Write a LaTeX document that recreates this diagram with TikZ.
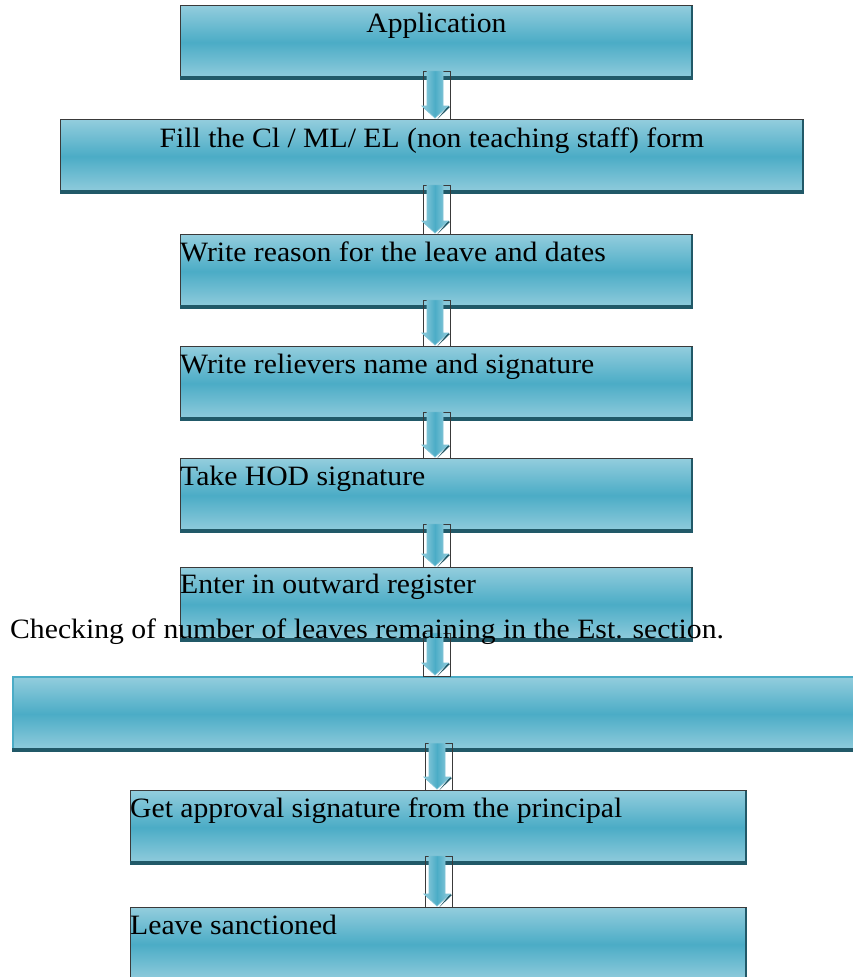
\documentclass[tikz,border=0pt]{standalone}
\usepackage{fontspec}
\setmainfont{Liberation Serif}[FakeStretch=1.06]
\usetikzlibrary{calc}
\definecolor{boxlight}{HTML}{93CDDD}
\definecolor{boxmid}{HTML}{4BACC6}
\definecolor{boxshadow}{HTML}{215968}
\definecolor{boxedge}{HTML}{3A3A3A}
\tikzset{
  flowbox/.style={rectangle, inner sep=0pt, anchor=north west, minimum height=74pt,
    top color=boxlight, bottom color=boxlight, middle color=boxmid,
    draw=boxedge, line width=0.8pt},
  boxtext/.style={inner sep=0pt, font=\fontsize{28}{31}\selectfont, text=black},
  arrowframe/.style={draw=boxedge, line width=0.6pt},
  arrowbody/.style={left color=boxlight, right color=boxlight, middle color=boxmid,
    draw=boxlight!70!boxmid, line width=0.8pt},
  arrowshadow/.style={fill=boxshadow},
}
% one process step: name, left, top, width, extra box options
\newcommand\flowstep[5]{%
  \node[flowbox, minimum width=#4pt, #5] (#1) at (#2,#3) {};
  \fill[boxshadow] ($(#1.south west)+(0,-4)$) rectangle (#1.south east);
  \fill[boxshadow] ($(#1.north east)+(-2,1)$) rectangle (#1.south east);
}
% block arrow from one step down to the next: upper, lower, shaft centre x
\newcommand\flowarrow[3]{%
  \coordinate (#1-ax) at (#3,0);
  \coordinate (#1-s) at ($(#1.south -| #1-ax)+(0,-9)$);
  \coordinate (#2-n) at (#2.north -| #1-ax);
  \draw[arrowframe] let \p1=(#1-s), \p2=(#2-n) in
    (\x1-12pt,\y1) rectangle (\x1+15pt,\y2);
  \fill[arrowshadow] let \p1=(#1-s), \p2=(#2-n) in
    (\x1+2pt,\y2-0.5pt) -- (\x1+15pt,\y2+12pt) -- (\x1+13pt,\y2+13pt) -- cycle;
  \path[arrowbody] let \p1=(#1-s), \p2=(#2-n) in
    (\x1-8pt,\y1) -- (\x1+8pt,\y1) -- (\x1+8pt,\y2+13pt) -- (\x1+13pt,\y2+13pt)
    -- (\x1,\y2+1pt) -- (\x1-13pt,\y2+13pt) -- (\x1-8pt,\y2+13pt) -- cycle;
}
\begin{document}
\begin{tikzpicture}[x=1pt,y=-1pt]
\useasboundingbox (0,0) rectangle (853,977);
\clip (0,0) rectangle (853,977);

% process steps
\flowstep{b1}{180}{5}{512}{}
\flowstep{b2}{60}{119}{743}{}
\flowstep{b3}{180}{234}{512}{}
\flowstep{b4}{180}{346}{512}{}
\flowstep{b5}{180}{458}{512}{}
\flowstep{b6}{180}{567}{512}{}
\flowstep{b7}{12}{676}{860}{draw=boxmid, line width=2pt}
\flowstep{b8}{130}{790}{616}{}
\flowstep{b9}{130}{907}{616}{}

% arrows between steps
\flowarrow{b1}{b2}{435}
\flowarrow{b2}{b3}{435}
\flowarrow{b3}{b4}{435}
\flowarrow{b4}{b5}{435}
\flowarrow{b5}{b6}{435}
\flowarrow{b6}{b7}{435}
\flowarrow{b7}{b8}{437}
\flowarrow{b8}{b9}{437}

% labels
\node[boxtext, anchor=base] (t1) at ($(b1.north)+(0,27)$) {Application};
\node[boxtext, anchor=base] (t2) at ($(b2.north)+(0,28)$) {Fill the Cl / ML/ EL (non teaching staff) form};
\node[boxtext, anchor=base west] (t3) at ($(b3.north west)+(0,27)$) {Write reason for the leave and dates};
\node[boxtext, anchor=base west] (t4) at ($(b4.north west)+(0,27)$) {Write relievers name and signature};
\node[boxtext, anchor=base west] (t5) at ($(b5.north west)+(0,27)$) {Take HOD signature};
\node[boxtext, anchor=base west] (t6) at ($(b6.north west)+(0,26)$) {Enter in outward register};
\node[boxtext, anchor=base west] (tc) at (10,638) {Checking of number of leaves remaining in the Est. section.};
\node[boxtext, anchor=base west] (t8) at ($(b8.north west)+(0,27)$) {Get approval signature from the principal};
\node[boxtext, anchor=base west] (t9) at ($(b9.north west)+(0,27)$) {Leave sanctioned};
\end{tikzpicture}
\end{document}
